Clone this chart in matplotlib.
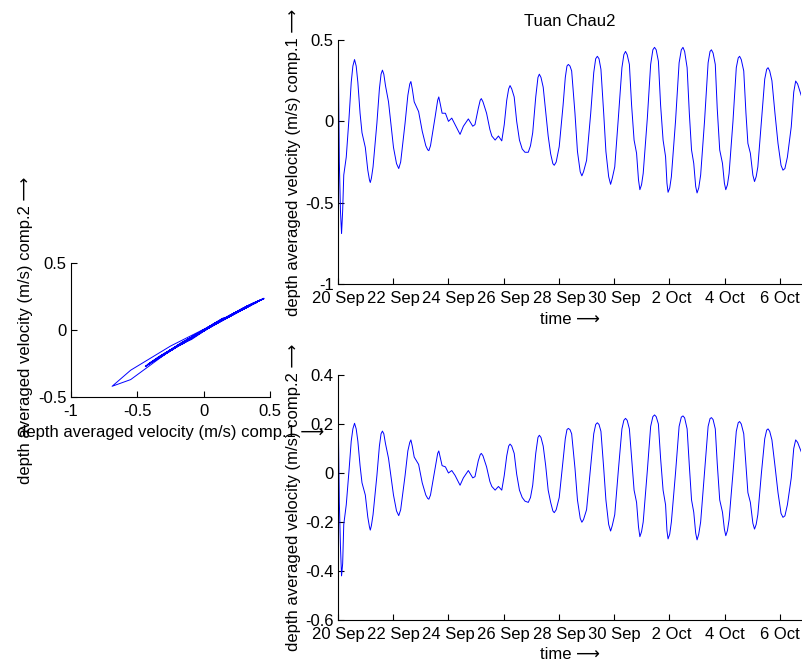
import matplotlib
matplotlib.use("Agg")
import matplotlib.pyplot as plt

plt.rcParams['font.family'] = ['Liberation Sans', 'DejaVu Sans']
plt.rcParams['font.size'] = 12
plt.rcParams['axes.unicode_minus'] = False

# days after 20 Sep 00:00, one row per tidal cycle
days = [0.00, 0.02, 0.05, 0.09, 0.13, 0.17, 0.21, 0.30, 0.40,
        0.48, 0.54, 0.60, 0.66, 0.72, 0.80, 0.87, 0.99, 1.08, 1.14, 1.17, 1.21, 1.27, 1.41,
        1.50, 1.56, 1.61, 1.66, 1.72, 1.83, 2.01, 2.12, 2.20, 2.27, 2.43,
        2.53, 2.60, 2.64, 2.69, 2.76, 2.92, 3.05, 3.18, 3.25, 3.29, 3.35, 3.52,
        3.61, 3.65, 3.70, 3.77, 3.89, 4.00, 4.12, 4.24, 4.42, 4.54, 4.72, 4.88, 4.96,
        5.08, 5.15, 5.19, 5.25, 5.38, 5.50, 5.57, 5.69, 5.81, 5.93, 6.02,
        6.11, 6.18, 6.23, 6.29, 6.38, 6.47, 6.57, 6.67, 6.77, 6.89, 6.97, 7.05,
        7.16, 7.24, 7.29, 7.35, 7.43, 7.52, 7.61, 7.70, 7.78, 7.83, 7.90, 8.01,
        8.15, 8.23, 8.29, 8.34, 8.40, 8.46, 8.58, 8.67, 8.77, 8.83, 8.89, 9.00,
        9.15, 9.26, 9.33, 9.39, 9.45, 9.52, 9.62, 9.70, 9.80, 9.87, 9.93, 10.02,
        10.15, 10.28, 10.35, 10.41, 10.47, 10.55, 10.63, 10.72, 10.81, 10.88, 10.93, 10.99, 11.05,
        11.20, 11.32, 11.40, 11.46, 11.52, 11.60, 11.68, 11.77, 11.86, 11.91, 11.95, 12.01, 12.07,
        12.22, 12.35, 12.43, 12.49, 12.55, 12.64, 12.72, 12.80, 12.88, 12.95, 13.00, 13.06, 13.13,
        13.27, 13.40, 13.47, 13.52, 13.58, 13.66, 13.73, 13.82, 13.92, 13.99, 14.04, 14.10, 14.16,
        14.30, 14.42, 14.49, 14.54, 14.60, 14.69, 14.77, 14.84, 14.93, 15.02, 15.08, 15.14, 15.20,
        15.33, 15.45, 15.52, 15.57, 15.63, 15.71, 15.82, 15.93, 16.04, 16.11, 16.18, 16.27,
        16.41, 16.50, 16.57, 16.64, 16.77]

comp1 = [0.14, 0.27, -0.25, -0.55, -0.69, -0.55, -0.33, -0.22, 0.02,
         0.24, 0.34, 0.38, 0.34, 0.24, 0.05, -0.07, -0.16, -0.30, -0.36, -0.376, -0.35, -0.28, -0.01,
         0.20, 0.29, 0.315, 0.29, 0.22, 0.12, -0.16, -0.26, -0.29, -0.25, -0.01,
         0.16, 0.23, 0.245, 0.20, 0.12, 0.06, -0.06, -0.15, -0.175, -0.18, -0.15, 0.03,
         0.13, 0.15, 0.11, 0.05, 0.05, 0.00, 0.02, -0.02, -0.08, -0.03, 0.015, -0.03, -0.02,
         0.08, 0.13, 0.14, 0.12, 0.05, -0.05, -0.09, -0.115, -0.09, -0.12, -0.02,
         0.13, 0.20, 0.22, 0.20, 0.15, 0.00, -0.115, -0.17, -0.19, -0.19, -0.15, -0.07,
         0.15, 0.27, 0.29, 0.27, 0.21, 0.06, -0.09, -0.20, -0.26, -0.27, -0.25, -0.155,
         0.10, 0.27, 0.34, 0.35, 0.34, 0.31, 0.05, -0.185, -0.31, -0.335, -0.31, -0.24,
         0.05, 0.30, 0.385, 0.40, 0.385, 0.32, 0.05, -0.185, -0.34, -0.387, -0.35, -0.28,
         0.02, 0.33, 0.41, 0.43, 0.41, 0.35, 0.10, -0.115, -0.196, -0.36, -0.42, -0.39, -0.32,
         0.02, 0.35, 0.44, 0.455, 0.44, 0.37, 0.10, -0.115, -0.217, -0.38, -0.436, -0.41, -0.34,
         0.00, 0.36, 0.44, 0.455, 0.43, 0.33, 0.05, -0.176, -0.258, -0.40, -0.44, -0.41, -0.33,
         0.00, 0.36, 0.43, 0.44, 0.42, 0.35, 0.08, -0.176, -0.258, -0.38, -0.42, -0.39, -0.32,
         0.00, 0.33, 0.39, 0.40, 0.38, 0.31, 0.05, -0.135, -0.196, -0.33, -0.37, -0.34, -0.28,
         0.00, 0.26, 0.32, 0.33, 0.31, 0.25, 0.05, -0.135, -0.27, -0.30, -0.29, -0.22,
         -0.033, 0.18, 0.248, 0.23, 0.16]

comp2 = [0.07, 0.14, -0.12, -0.30, -0.42, -0.37, -0.21, -0.13, 0.01,
         0.13, 0.18, 0.203, 0.18, 0.13, 0.03, -0.04, -0.09, -0.18, -0.22, -0.233, -0.215, -0.17, -0.01,
         0.11, 0.16, 0.171, 0.16, 0.12, 0.06, -0.09, -0.155, -0.174, -0.15, -0.01,
         0.09, 0.125, 0.135, 0.11, 0.065, 0.035, -0.04, -0.09, -0.104, -0.107, -0.09, 0.02,
         0.08, 0.09, 0.065, 0.03, 0.025, 0.00, 0.01, -0.01, -0.05, -0.02, 0.01, -0.02, -0.015,
         0.05, 0.075, 0.08, 0.07, 0.025, -0.035, -0.055, -0.07, -0.055, -0.07, -0.01,
         0.07, 0.11, 0.118, 0.11, 0.08, -0.005, -0.07, -0.10, -0.115, -0.12, -0.10, -0.05,
         0.08, 0.145, 0.154, 0.145, 0.11, 0.03, -0.07, -0.12, -0.155, -0.162, -0.15, -0.10,
         0.05, 0.14, 0.177, 0.182, 0.177, 0.16, 0.02, -0.11, -0.185, -0.201, -0.19, -0.15,
         0.03, 0.16, 0.198, 0.205, 0.198, 0.17, 0.02, -0.11, -0.21, -0.237, -0.215, -0.17,
         0.01, 0.18, 0.215, 0.223, 0.215, 0.18, 0.06, -0.07, -0.12, -0.22, -0.26, -0.24, -0.20,
         0.01, 0.19, 0.23, 0.237, 0.23, 0.20, 0.06, -0.07, -0.13, -0.235, -0.269, -0.25, -0.20,
         0.00, 0.19, 0.228, 0.233, 0.225, 0.18, 0.03, -0.11, -0.16, -0.245, -0.273, -0.25, -0.20,
         0.00, 0.19, 0.222, 0.226, 0.218, 0.18, 0.04, -0.11, -0.16, -0.23, -0.256, -0.235, -0.19,
         0.00, 0.17, 0.205, 0.21, 0.20, 0.16, 0.03, -0.08, -0.12, -0.205, -0.229, -0.21, -0.17,
         0.00, 0.14, 0.175, 0.18, 0.17, 0.135, 0.03, -0.08, -0.165, -0.181, -0.175, -0.13,
         -0.02, 0.10, 0.135, 0.125, 0.087]

date_ticks = [0, 2, 4, 6, 8, 10, 12, 14, 16]
date_labels = ['20 Sep', '22 Sep', '24 Sep', '26 Sep', '28 Sep', '30 Sep',
               ' 2 Oct', '4 Oct', '6 Oct']

label1 = 'depth averaged velocity (m/s) comp.1 \u27f6'
label2 = 'depth averaged velocity (m/s) comp.2 \u27f6'
time_label = 'time \u27f6'

fig = plt.figure(figsize=(8.02, 6.65), dpi=100)


def style(ax):
    ax.spines['top'].set_visible(False)
    ax.spines['right'].set_visible(False)
    ax.tick_params(direction='in', length=4, width=0.8, labelsize=12)
    ax.tick_params(axis='x', pad=5)
    ax.tick_params(axis='y', pad=3)


# comp.1 against comp.2
ax0 = fig.add_axes([0.0885, 0.4030, 0.2481, 0.2015])
ax0.plot(comp1, comp2, color='blue', lw=0.7)
ax0.set_xlim(-1, 0.5)
ax0.set_ylim(-0.5, 0.5)
ax0.set_xticks([-1, -0.5, 0, 0.5])
ax0.set_xticklabels(['-1', '-0.5', '0', '0.5'])
ax0.set_yticks([-0.5, 0, 0.5])
ax0.set_yticklabels(['-0.5', '0', '0.5'])
ax0.set_xlabel(label1, labelpad=4)
ax0.set_ylabel(label2, labelpad=4)
style(ax0)

# time series comp.1
ax1 = fig.add_axes([0.4214, 0.5729, 0.5776, 0.3669])
ax1.plot(days, comp1, color='blue', lw=0.7)
ax1.set_xlim(days[0], days[-1])
ax1.set_ylim(-1, 0.5)
ax1.set_yticks([-1, -0.5, 0, 0.5])
ax1.set_yticklabels(['-1', '-0.5', '0', '0.5'])
ax1.set_xticks(date_ticks)
ax1.set_xticklabels(date_labels)
ax1.set_xlabel(time_label, labelpad=4)
ax1.set_ylabel(label1, labelpad=3)
ax1.set_title('Tuan Chau2', fontsize=12, pad=10)
style(ax1)

# time series comp.2
ax2 = fig.add_axes([0.4214, 0.0677, 0.5776, 0.3684])
ax2.plot(days, comp2, color='blue', lw=0.7)
ax2.set_xlim(days[0], days[-1])
ax2.set_ylim(-0.6, 0.4)
ax2.set_yticks([-0.6, -0.4, -0.2, 0, 0.2, 0.4])
ax2.set_yticklabels(['-0.6', '-0.4', '-0.2', '0', '0.2', '0.4'])
ax2.set_xticks(date_ticks)
ax2.set_xticklabels(date_labels)
ax2.set_xlabel(time_label, labelpad=4)
ax2.set_ylabel(label2, labelpad=3)
style(ax2)

fig.savefig('out.png', dpi=100)
